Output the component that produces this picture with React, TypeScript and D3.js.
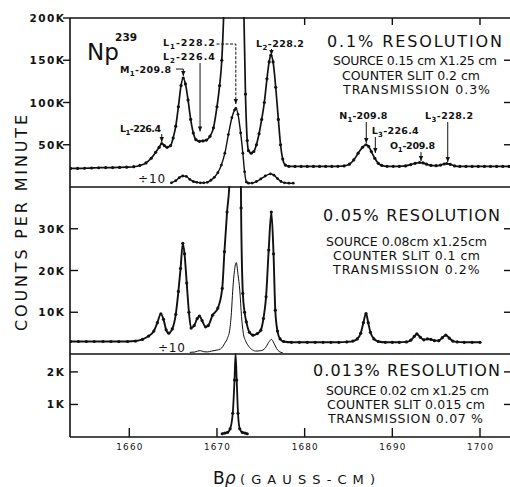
import { useEffect, useRef } from 'react'
import * as d3 from 'd3'

type Pt = [number, number]

// B-rho (gauss-cm) ticks
const xTicks = [1660, 1670, 1680, 1690, 1700]
const topTicks = [1680, 1690, 1700]
// counts per minute, in thousands
const ticks01 = [50, 100, 150, 200]
const ticks005 = [10, 20, 30]
const ticks0013 = [1, 2]

// 0.1% resolution run
const res01: Pt[] = [
  [1653.3, 22], [1654.1, 22], [1654.9, 22.2], [1655.7, 22.5], [1656.5, 22.8], [1657.3, 23], [1658.1, 23],
  [1658.9, 23.2], [1659.7, 23.5], [1660.5, 24], [1661.2, 25.5], [1661.9, 28.5], [1662.5, 34], [1663.0, 41],
  [1663.4, 47], [1663.7, 51.5], [1664.0, 49], [1664.3, 47], [1664.7, 49], [1665.0, 58], [1665.3, 72],
  [1665.6, 95], [1665.9, 120], [1666.15, 129], [1666.4, 122], [1666.7, 103], [1667.0, 80], [1667.3, 64],
  [1667.6, 56], [1668.0, 54], [1668.4, 54.5], [1668.8, 55.5], [1669.2, 60], [1669.6, 70], [1670.0, 95],
  [1670.3, 120], [1670.55, 150], [1670.8, 215], [1671.3, 450], [1672.1, 930], [1672.8, 420], [1673.05, 215],
  [1673.25, 110], [1673.45, 55], [1673.6, 43], [1673.9, 40], [1674.2, 42], [1674.5, 50], [1674.8, 63],
  [1675.1, 80], [1675.4, 100], [1675.7, 128], [1675.95, 148], [1676.15, 156], [1676.4, 148], [1676.7, 118],
  [1677.0, 80], [1677.25, 50], [1677.5, 33], [1677.8, 26], [1678.2, 24.5], [1678.9, 24.3], [1679.6, 24.3],
  [1680.3, 24.3], [1681.0, 24.3], [1681.7, 24.3], [1682.4, 24.3], [1683.1, 24.3], [1683.8, 24.5], [1684.5, 25],
  [1685.1, 27], [1685.6, 32], [1686.1, 40], [1686.6, 47], [1687.0, 50], [1687.3, 48], [1687.6, 42],
  [1688.0, 34], [1688.4, 28], [1688.8, 25.5], [1689.4, 24.5], [1690.1, 24.5], [1690.8, 24.5], [1691.5, 25],
  [1692.1, 26.5], [1692.6, 28], [1693.1, 29], [1693.5, 28.5], [1693.9, 27], [1694.4, 25.5], [1695.0, 25.2],
  [1695.5, 26], [1695.9, 27.2], [1696.2, 27.8], [1696.6, 26.8], [1697.1, 25], [1697.7, 24.3], [1698.4, 24.3],
  [1699.1, 24.3], [1699.8, 24.3], [1700.5, 24.3], [1701.2, 24.3], [1701.9, 24.3], [1702.6, 24.3], [1703.3, 24.3],
]
const res01Div10: Pt[] = [
  [1664.8, 5], [1665.3, 7.5], [1665.7, 11], [1666.1, 13], [1666.5, 12.5], [1666.9, 9], [1667.3, 6.5],
  [1667.7, 5.5], [1668.1, 5], [1668.5, 5], [1668.9, 5.5], [1669.3, 8], [1669.7, 11.5], [1670.1, 17],
  [1670.5, 26], [1670.9, 40], [1671.3, 62], [1671.7, 82], [1672.0, 91], [1672.15, 93], [1672.4, 86],
  [1672.7, 64], [1672.95, 40], [1673.15, 18], [1673.35, 6], [1673.6, 4.5], [1674.0, 4.6], [1674.5, 6.5],
  [1675.0, 9.5], [1675.5, 13], [1676.1, 15.5], [1676.5, 14], [1676.9, 10], [1677.3, 6.5], [1677.7, 5],
  [1678.2, 4.5], [1678.7, 4.5],
]

// 0.05% resolution run
const res005: Pt[] = [
  [1653.3, 3], [1654.2, 3], [1655.1, 3], [1656.0, 3], [1657.0, 3], [1657.9, 3], [1658.8, 3], [1659.8, 3],
  [1660.7, 3.1], [1661.5, 3.5], [1662.2, 4.3], [1662.8, 5.5], [1663.2, 7.5], [1663.6, 9.6], [1663.9, 8.3],
  [1664.2, 5.8], [1664.5, 5], [1664.9, 6], [1665.3, 9.5], [1665.6, 15], [1665.85, 20.5], [1666.1, 26.5],
  [1666.3, 24], [1666.55, 17], [1666.8, 10], [1667.05, 6.2], [1667.4, 6.8], [1667.75, 8.5], [1668.0, 9.1],
  [1668.3, 8], [1668.7, 6.5], [1669.0, 6.8], [1669.5, 9.3], [1670.1, 11], [1670.6, 15.7], [1670.85, 24.5],
  [1671.15, 34], [1671.45, 42], [1671.75, 100], [1672.2, 217], [1672.55, 100], [1672.75, 35], [1672.95, 14.5],
  [1673.15, 10], [1673.35, 7.7], [1673.7, 5.2], [1674.1, 4.5], [1674.6, 4.9], [1675.0, 5.7], [1675.3, 8.5],
  [1675.6, 13.7], [1675.9, 24.9], [1676.2, 34], [1676.45, 24], [1676.65, 10.5], [1676.9, 5.5], [1677.2, 3.6],
  [1677.6, 3], [1678.5, 2.8], [1679.4, 2.8], [1680.3, 2.8], [1681.2, 2.8], [1682.1, 2.8], [1683.0, 2.8],
  [1683.9, 2.8], [1684.8, 2.9], [1685.5, 3.1], [1686.0, 3.6], [1686.4, 5], [1686.7, 7.5], [1687.0, 9.7],
  [1687.25, 7.5], [1687.5, 5.2], [1687.9, 3.6], [1688.4, 3], [1689.2, 2.8], [1690.0, 2.8], [1690.8, 2.8],
  [1691.6, 2.9], [1692.1, 3.3], [1692.5, 4.2], [1692.8, 4.8], [1693.2, 4], [1693.6, 3.4], [1694.0, 3.6],
  [1694.4, 3.5], [1694.8, 3.2], [1695.3, 3.2], [1695.7, 3.9], [1696.1, 4.5], [1696.5, 3.8], [1696.9, 3.1],
  [1697.4, 2.9], [1698.2, 2.8], [1699.1, 2.8], [1700.0, 2.8],
]
const res005Div10: Pt[] = [
  [1666.9, 0.4], [1667.4, 0.45], [1667.8, 0.7], [1668.1, 0.8], [1668.5, 0.55], [1668.9, 0.5], [1669.4, 0.7],
  [1669.9, 0.9], [1670.4, 1.2], [1670.9, 2.6], [1671.2, 3.8], [1671.45, 5.7], [1671.65, 10], [1671.8, 15.3],
  [1672.0, 20], [1672.2, 21.9], [1672.4, 19], [1672.6, 15.3], [1672.8, 9], [1673.0, 5], [1673.25, 3.2],
  [1673.5, 2.2], [1673.9, 1.2], [1674.4, 0.7], [1675.0, 0.8], [1675.5, 1.4], [1675.9, 2.8], [1676.2, 3.5],
  [1676.5, 2.6], [1676.8, 1.3], [1677.1, 0.6], [1677.5, 0.3],
]

// 0.013% resolution run
const res0013: Pt[] = [
  [1670.6, 0.1], [1670.9, 0.12], [1671.2, 0.14], [1671.5, 0.25], [1671.8, 0.73], [1672.0, 1.75],
  [1672.12, 2.55], [1672.25, 1.75], [1672.4, 0.73], [1672.6, 0.25], [1672.9, 0.14], [1673.2, 0.12], [1673.45, 0.1],
]

// line identifications: label at (bRho, K), arrow from y1 to y2 at bRho ax
const lineLabels = [
  { name: 'L', sub: '1', rest: '-228.2', bx: 1663.84, by: 166.9, w: 52 },
  { name: 'L', sub: '2', rest: '-226.4', bx: 1663.84, by: 150.3, w: 52 },
  { name: 'M', sub: '1', rest: '-209.8', bx: 1658.94, by: 134.6, w: 51 },
  { name: 'L', sub: '1', rest: '-226.4', bx: 1658.94, by: 65.4, w: 41 },
  { name: 'L', sub: '2', rest: '-228.2', bx: 1674.45, by: 166, w: 48 },
  { name: 'N', sub: '1', rest: '-209.8', bx: 1683.95, by: 80.5, w: 48 },
  { name: 'L', sub: '3', rest: '-226.4', bx: 1687.65, by: 62.7, w: 47 },
  { name: 'O', sub: '1', rest: '-209.8', bx: 1689.74, by: 45, w: 45 },
  { name: 'L', sub: '3', rest: '-228.2', bx: 1693.73, by: 80.5, w: 48 },
]
const arrows = [
  { ax: 1668.07, y1: 146.7, y2: 65.7 },
  { ax: 1663.7, y1: 62.7, y2: 53.3 },
  { ax: 1676.22, y1: 163.3, y2: 156.2 },
  { ax: 1687.03, y1: 76.9, y2: 52.1 },
  { ax: 1688.06, y1: 59.2, y2: 40.2 },
  { ax: 1693.27, y1: 41.4, y2: 30.8 },
  { ax: 1696.32, y1: 76.9, y2: 29.6 },
]
// leader lines with a bend: [bRho, K] vertices
const leaders: Pt[][] = [
  [[1669.95, 169.2], [1672.15, 169.2], [1672.15, 98.2]],
  [[1665.33, 139.6], [1666.16, 139.6], [1666.16, 131.4]],
]

const notes = [
  ['0.1% RESOLUTION', 'SOURCE 0.15 cm X1.25 cm', 'COUNTER SLIT 0.2 cm', 'TRANSMISSION 0.3%'],
  ['0.05% RESOLUTION', 'SOURCE 0.08cm x1.25cm', 'COUNTER SLIT 0.1 cm', 'TRANSMISSION 0.2%'],
  ['0.013% RESOLUTION', 'SOURCE 0.02 cm x1.25 cm', 'COUNTER SLIT 0.015 cm', 'TRANSMISSION 0.07 %'],
]

const W = 510
const H = 487
const FONT = 'DejaVu Sans, sans-serif'

export default function App() {
  const svgRef = useRef<SVGSVGElement>(null)

  useEffect(() => {
    if (!svgRef.current) return
    const svg = d3.select(svgRef.current)
    svg.selectAll('*').remove()

    const left = 70
    const right = 513
    const x = d3.scaleLinear().domain([1660, 1700]).range([129.3, 480])
    const y1 = d3.scaleLinear().domain([0, 200]).range([187, 18])
    const y2 = d3.scaleLinear().domain([0, 40]).range([354, 187])
    const y3 = d3.scaleLinear().domain([0, 2.55]).range([437, 354])

    svg.append('rect').attr('width', W).attr('height', H).attr('fill', '#fff')

    const defs = svg.append('defs')
    const panels = [
      { id: 'p1', top: 18, bottom: 187 },
      { id: 'p2', top: 187, bottom: 354 },
      { id: 'p3', top: 354, bottom: 437 },
    ]
    panels.forEach(p => {
      defs.append('clipPath').attr('id', p.id)
        .append('rect').attr('x', left).attr('y', p.top - 1)
        .attr('width', right - left).attr('height', p.bottom - p.top + 1)
    })

    // frame
    const frame = svg.append('g').attr('stroke', '#111').attr('stroke-width', 1.6).attr('fill', 'none')
    frame.append('line').attr('x1', left).attr('x2', left).attr('y1', 18).attr('y2', 437)
    ;[18, 187, 354, 437].forEach(yy => {
      frame.append('line').attr('x1', left).attr('x2', right).attr('y1', yy).attr('y2', yy)
    })

    const ticks = svg.append('g').attr('stroke', '#111').attr('stroke-width', 1.4)
    xTicks.forEach(t => {
      ticks.append('line').attr('x1', x(t)).attr('x2', x(t)).attr('y1', 437).attr('y2', 428)
    })
    topTicks.forEach(t => {
      ticks.append('line').attr('x1', x(t)).attr('x2', x(t)).attr('y1', 18).attr('y2', 25)
    })

    const yTickSets: [d3.ScaleLinear<number, number>, number[], number][] = [
      [y1, ticks01, -7],
      [y2, ticks005, 8],
      [y3, ticks0013, 8],
    ]
    yTickSets.forEach(([ys, vals, len]) => {
      vals.forEach(v => {
        ticks.append('line').attr('x1', left).attr('x2', left + len).attr('y1', ys(v)).attr('y2', ys(v))
        if (v < 200) ticks.append('line').attr('x1', 504).attr('x2', 512).attr('y1', ys(v)).attr('y2', ys(v))
        svg.append('text')
          .attr('x', 64).attr('y', ys(v) + 4)
          .attr('text-anchor', 'end')
          .attr('font-family', FONT).attr('font-size', 10.5).attr('font-weight', 600)
          .attr('textLength', (v >= 100 ? 4 : v >= 10 ? 3 : 2) * 8.6)
          .attr('lengthAdjust', 'spacing')
          .attr('fill', '#111')
          .text(`${v}K`)
      })
    })

    xTicks.forEach(t => {
      svg.append('text')
        .attr('x', x(t) - 13).attr('y', 450)
        .attr('font-family', FONT).attr('font-size', 8.8)
        .attr('textLength', 26).attr('lengthAdjust', 'spacing')
        .attr('fill', '#111')
        .text(String(t))
    })

    // curves
    const drawCurve = (data: Pt[], ys: d3.ScaleLinear<number, number>, clip: string, width: number, dots: boolean, r = 1.6) => {
      const g = svg.append('g').attr('clip-path', `url(#${clip})`)
      const line = d3.line<Pt>().x(d => x(d[0])).y(d => ys(d[1])).curve(d3.curveMonotoneX)
      g.append('path').datum(data).attr('d', line)
        .attr('fill', 'none').attr('stroke', '#111').attr('stroke-width', width).attr('stroke-linejoin', 'round')
      if (dots) {
        g.selectAll('circle').data(data.filter(d => ys(d[1]) > ys.range()[1] + 2)).enter().append('circle')
          .attr('cx', d => x(d[0])).attr('cy', d => ys(d[1])).attr('r', r).attr('fill', '#111')
      }
    }
    drawCurve(res01, y1, 'p1', 1.7, true)
    drawCurve(res01Div10, y1, 'p1', 1.4, true, 1.4)
    drawCurve(res005, y2, 'p2', 1.9, true)
    drawCurve(res005Div10, y2, 'p2', 1.0, false)
    drawCurve(res0013, y3, 'p3', 1.8, true)

    // ÷10 tags
    const tags: [number, number, d3.ScaleLinear<number, number>][] = [[1661.0, 4.7, y1], [1663.27, 0.55, y2]]
    tags.forEach(([bx, by, ys]) => {
      svg.append('text').attr('x', x(bx)).attr('y', ys(by))
        .attr('font-family', FONT).attr('font-size', 12).attr('fill', '#111')
        .attr('textLength', 27).attr('lengthAdjust', 'spacing')
        .text('÷10')
    })

    // Np 239
    svg.append('text').attr('x', x(1655.18)).attr('y', y1(150.3))
      .attr('font-family', FONT).attr('font-size', 23).attr('fill', '#111').text('Np')
    svg.append('text').attr('x', x(1658.38)).attr('y', y1(172.8))
      .attr('font-family', FONT).attr('font-size', 10.5).attr('font-weight', 600).attr('fill', '#111').text('239')

    // line labels
    lineLabels.forEach(l => {
      const t = svg.append('text').attr('x', x(l.bx)).attr('y', y1(l.by))
        .attr('font-family', FONT).attr('font-size', 9.5).attr('font-weight', 600).attr('fill', '#111')
        .attr('textLength', l.w).attr('lengthAdjust', 'spacing')
      t.append('tspan').text(l.name)
      t.append('tspan').attr('dy', 3).attr('font-size', 7).text(l.sub)
      t.append('tspan').attr('dy', -3).text(l.rest)
    })
    const ann = svg.append('g').attr('stroke', '#111').attr('stroke-width', 1).attr('fill', 'none')
    const arrowHead = (ax: number, ay: number) => {
      svg.append('path')
        .attr('d', `M${ax - 2.2},${ay - 5} L${ax},${ay} L${ax + 2.2},${ay - 5} Z`)
        .attr('fill', '#111')
    }
    arrows.forEach(a => {
      ann.append('line').attr('x1', x(a.ax)).attr('x2', x(a.ax)).attr('y1', y1(a.y1)).attr('y2', y1(a.y2))
      arrowHead(x(a.ax), y1(a.y2))
    })
    leaders.forEach((pts, i) => {
      ann.append('path')
        .attr('d', d3.line<Pt>().x(d => x(d[0])).y(d => y1(d[1]))(pts))
        .attr('stroke-dasharray', i === 0 ? '3,1.5' : null)
      const last = pts[pts.length - 1]
      arrowHead(x(last[0]), y1(last[1]))
    })

    // resolution notes
    const noteLayout = [
      { lines: [[327, 47, 175], [333, 65, 164], [342, 79.5, 138], [343, 94, 147]] },
      { lines: [[323, 221, 177], [326, 245.5, 161], [333, 260, 147], [333, 274, 146.6]] },
      { lines: [[313, 376, 187], [326, 394.5, 163], [327, 408.5, 158], [328, 423, 155]] },
    ]
    notes.forEach((lines, i) => {
      lines.forEach((s, j) => {
        const [lx, ly, lw] = noteLayout[i].lines[j]
        svg.append('text').attr('x', lx).attr('y', ly)
          .attr('font-family', FONT).attr('font-size', j === 0 ? 16 : 12.5)
          .attr('fill', '#111')
          .attr('textLength', lw).attr('lengthAdjust', 'spacing')
          .text(s)
      })
    })

    // axis titles
    svg.append('text')
      .attr('transform', 'translate(27,331) rotate(-90)')
      .attr('font-family', FONT).attr('font-size', 16).attr('fill', '#111')
      .attr('textLength', 216).attr('lengthAdjust', 'spacing')
      .text('COUNTS PER MINUTE')
    svg.append('text').attr('x', 213).attr('y', 484)
      .attr('font-family', FONT).attr('font-size', 17).attr('fill', '#111')
      .text('B').append('tspan').attr('font-style', 'italic').text('ρ')
    svg.append('text').attr('x', 240).attr('y', 484)
      .attr('font-family', FONT).attr('font-size', 13).attr('fill', '#111')
      .attr('textLength', 135).attr('lengthAdjust', 'spacing')
      .text('(GAUSS-CM)')
  }, [])

  return (
    <svg
      ref={svgRef}
      width={W}
      height={H}
      style={{ position: 'absolute', left: 0, top: 0, background: '#fff' }}
    />
  )
}
